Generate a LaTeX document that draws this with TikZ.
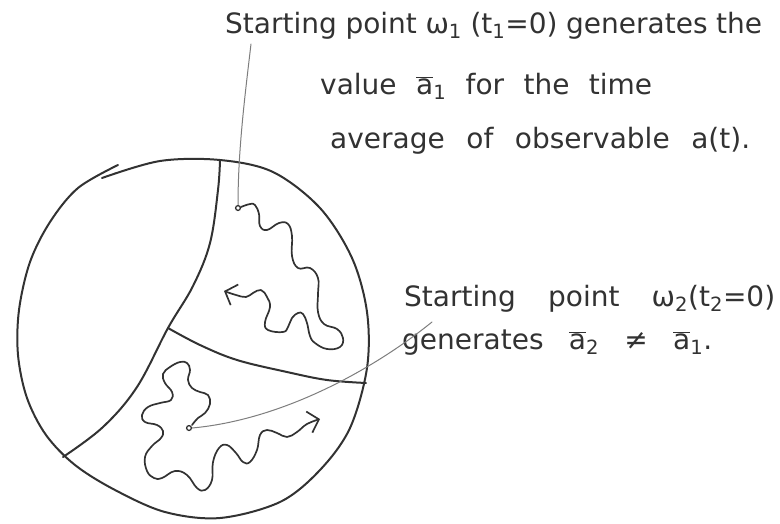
\documentclass[tikz,border=0pt]{standalone}
\usepackage{fontspec}
\setmainfont{DejaVu Sans}
\usetikzlibrary{arrows.meta}
\newcommand{\abar}[1]{$\overline{\mbox{a}}$\textsubscript{#1}}
\begin{document}
\begin{tikzpicture}[x=1pt, y=-1pt, >={Straight Barb[length=10pt,width=22pt]}, font=\fontsize{28}{34}\selectfont]
			\definecolor{pencil}{RGB}{50,50,50}
			\definecolor{lightpencil}{RGB}{125,125,125}
			\tikzset{
				rand/.style={pencil, line width=2pt, line cap=round, line join=round},
				bahn/.style={pencil, line width=1.7pt, line cap=round, line join=round},
				zeiger/.style={lightpencil, line width=1pt, line cap=round},
				punkt/.style={circle, draw=pencil, line width=1.3pt, inner sep=1.7pt},
				txt/.style={anchor=base west, inner sep=0pt, text=pencil}
			}
			\useasboundingbox (0,0) rectangle (780,523);

			% 相空间的边界（两笔画成）
			\draw[rand] plot[smooth, tension=0.55] coordinates {(102,178) (160,161) (220,160) (273,172) (320,208) (352,258) (367,312) (367,368) (350,428) (320,470) (280,502) (220,518) (165,512) (115,490) (75,465) (46,435) (27,398) (18,355) (19,310) (30,262) (50,222) (78,188) (118,165)};

			% 分隔线
			\draw[rand] plot[smooth, tension=0.6] coordinates {(220,160) (218,190) (210,243) (193,286) (168,328) (137,387) (103,427) (63,457)};
			\draw[rand] plot[smooth, tension=0.6] coordinates {(168,328) (200,345) (237,360) (287,372) (327,380) (366,383)};

			% 起点
			\node[punkt] (w1) at (238,208) {};
			\node[punkt] (w2) at (189,428) {};

			% 轨道 1
			\draw[bahn, ->] plot[smooth, tension=0.7] coordinates {(241,207) (250,204) (255,205) (259,214) (260,226) (267,230) (279,223) (288,224) (292,236) (292,256) (298,268) (310,268) (318,278) (318,294) (318,312) (324,324) (337,329) (343,338) (340,347) (327,349) (315,343) (310,336) (307,323) (303,314) (298,313) (292,318) (288,327) (283,332) (268,330) (265,322) (270,307) (267,297) (261,290) (253,293) (246,297) (236,295) (224,291)};

			% 轨道 2
			\draw[bahn, ->] plot[smooth, tension=0.7] coordinates {(192,425) (198,418) (205,413) (210,404) (208,395) (200,392) (192,388) (188,380) (190,370) (187,363) (180,362) (170,367) (163,374) (165,383) (172,392) (171,400) (160,403) (148,407) (142,415) (145,422) (157,425) (163,431) (161,438) (152,446) (145,457) (147,471) (154,478) (162,478) (175,471) (187,475) (197,488) (205,490) (212,480) (213,462) (219,448) (227,445) (236,453) (243,462) (250,462) (257,450) (260,435) (267,430) (277,433) (287,437) (297,432) (307,424) (320,419)};

			% 说明文字
			\node[txt] (s1) at (225,33) {\makebox[537pt][s]{Starting point ω\textsubscript{1} (t\textsubscript{1}=0) generates the}};
			\node[txt] (s2) at (320,94) {\makebox[332pt][s]{value \abar{1} for the time}};
			\node[txt] (s3) at (330,148) {\makebox[420pt][s]{average of observable a(t).}};
			\node[txt] (r1) at (404,306) {\makebox[371pt][s]{Starting point ω\textsubscript{2}(t\textsubscript{2}=0)}};
			\node[txt] (r2) at (402,349) {\makebox[310pt][s]{generates \abar{2} ≠ \abar{1}.}};

			% 指引线
			\coordinate (p1) at (251,44);
			\coordinate (p2) at (432,322);
			\draw[zeiger] (p1) .. controls (245,95) and (238,150) .. (w1.north);
			\draw[zeiger] (p2) .. controls (370,372) and (280,420) .. (w2.east);
		\end{tikzpicture}
\end{document}
